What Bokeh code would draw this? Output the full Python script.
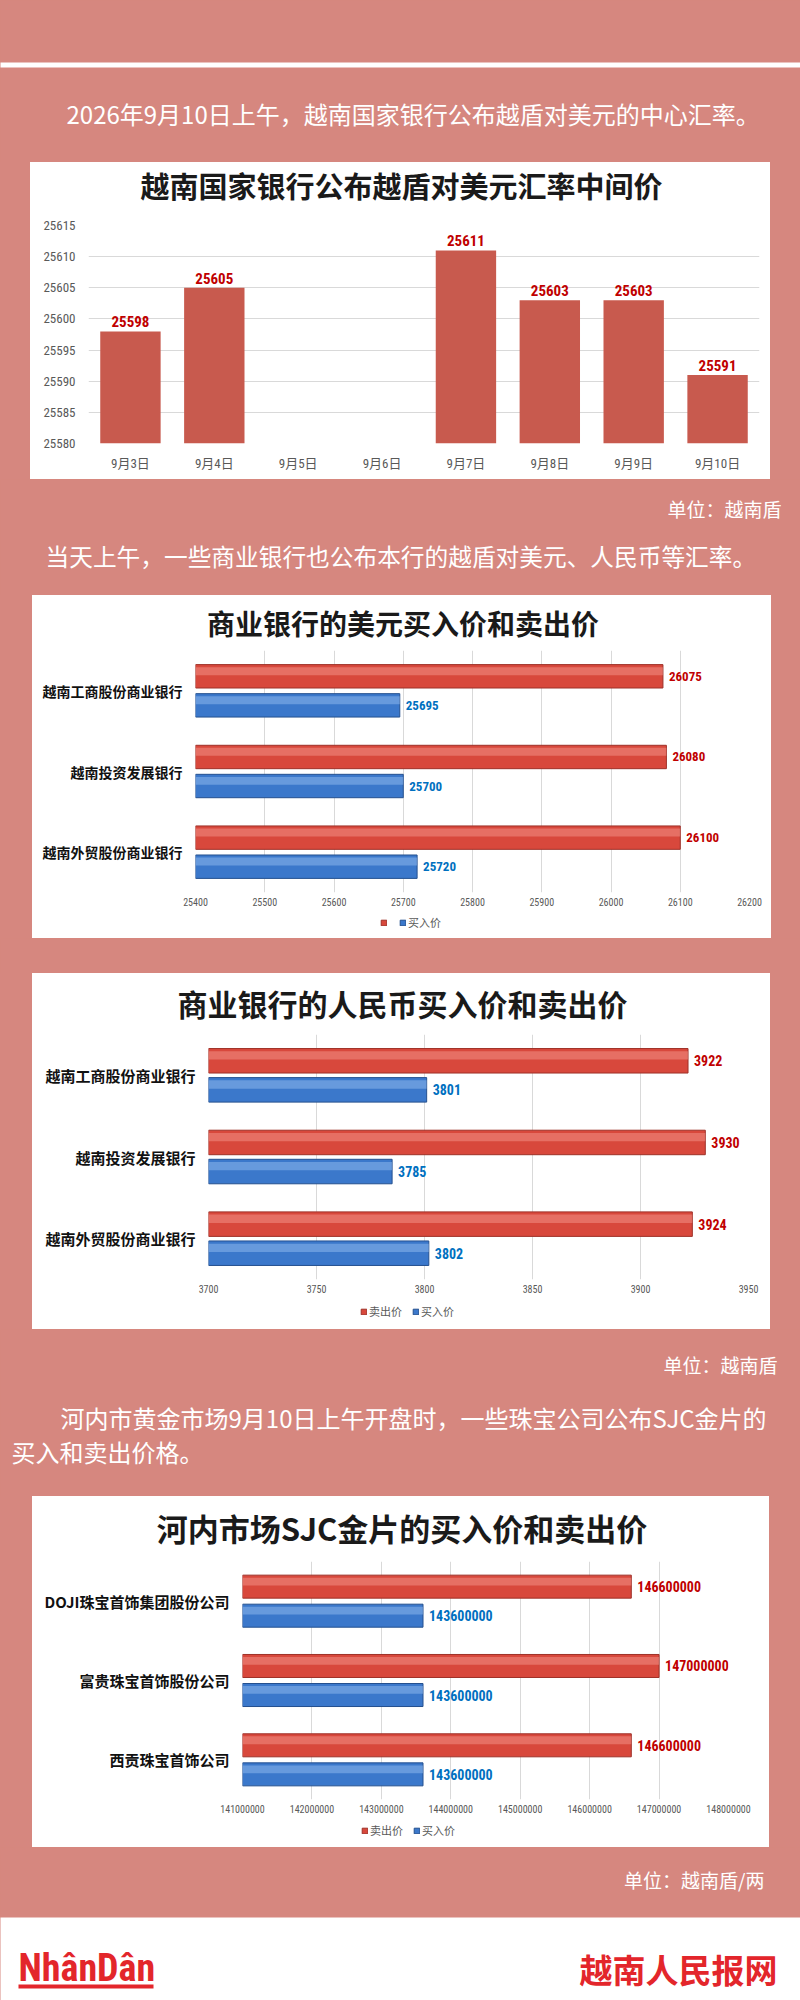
from bokeh.plotting import figure
from bokeh.models import (ColumnDataSource, Range1d, FactorRange, FixedTicker,
                          Legend, LegendItem, BasicTickFormatter, Spacer)
from bokeh.layouts import column, row
from bokeh.transform import dodge
from bokeh.core.properties import value
from bokeh.embed import file_html
from bokeh.resources import INLINE

# ---------------- data ----------------
DAYS = ["9月3日", "9月4日", "9月5日", "9月6日", "9月7日", "9月8日", "9月9日", "9月10日"]
MID_RATE = [25598, 25605, None, None, 25611, 25603, 25603, 25591]
MID_TICKS = [25580, 25585, 25590, 25595, 25600, 25605, 25610, 25615]

USD_BANKS = ["越南工商股份商业银行", "越南投资发展银行", "越南外贸股份商业银行"]
USD_SELL = [26075, 26080, 26100]
USD_BUY = [25695, 25700, 25720]
USD_TICKS = [25400, 25500, 25600, 25700, 25800, 25900, 26000, 26100, 26200]
USD_LEGEND = ["", "买入价"]

CNY_BANKS = ["越南工商股份商业银行", "越南投资发展银行", "越南外贸股份商业银行"]
CNY_SELL = [3922, 3930, 3924]
CNY_BUY = [3801, 3785, 3802]
CNY_TICKS = [3700, 3750, 3800, 3850, 3900, 3950]
CNY_LEGEND = ["卖出价", "买入价"]

GOLD_SELLERS = ["DOJI珠宝首饰集团股份公司", "富贵珠宝首饰股份公司", "西贡珠宝首饰公司"]
GOLD_SELL = [146600000, 147000000, 146600000]
GOLD_BUY = [143600000, 143600000, 143600000]
GOLD_TICKS = [141000000, 142000000, 143000000, 144000000, 145000000,
              146000000, 147000000, 148000000]
GOLD_LEGEND = ["卖出价", "买入价"]

HEAD1 = "2026年9月10日上午，越南国家银行公布越盾对美元的中心汇率。"
HEAD2 = "当天上午，一些商业银行也公布本行的越盾对美元、人民币等汇率。"
HEAD3A = "河内市黄金市场9月10日上午开盘时，一些珠宝公司公布SJC金片的"
HEAD3B = "买入和卖出价格。"
TITLE1 = "越南国家银行公布越盾对美元汇率中间价"
TITLE2 = "商业银行的美元买入价和卖出价"
TITLE3 = "商业银行的人民币买入价和卖出价"
TITLE4 = "河内市场SJC金片的买入价和卖出价"
UNIT1 = "单位：越南盾"
UNIT2 = "单位：越南盾/两"

# ---------------- style ----------------
PINK = "#d6877f"
WHITE = "#ffffff"
CJK = "Noto Sans CJK SC"
NARROW = "Liberation Sans Narrow, Roboto Condensed, Noto Sans CJK SC, sans-serif"
AX_GRAY = "#595959"
GRID = "#d9d9d9"
TITLE_C = "#1a1a1a"
RED, RED_EDGE, RED_HI = "#d8483c", "#9e3128", "#f4968b"
BLUE, BLUE_EDGE, BLUE_HI = "#3b78cb", "#24508f", "#94bcf0"


def no_align(p):
    try:
        p.frame_align = False
    except Exception:
        pass
    return p


def blank(x0, x1, y0, y1, bg=PINK):
    """Decorative panel whose data coordinates equal page pixels."""
    p = figure(width=x1 - x0, height=y1 - y0, x_range=Range1d(x0, x1),
               y_range=Range1d(y1, y0), title=None, x_axis_location=None,
               y_axis_location=None, min_border=0, toolbar_location=None,
               output_backend="svg", background_fill_color=bg, border_fill_color=bg,
               outline_line_color=None)
    p.grid.visible = False
    return no_align(p)


def put(p, x, y, s, size, color, align="left", style="normal", font=CJK):
    p.text(x=[x], y=[y], text=[s], text_font=value(font), text_font_size=size,
           text_color=color, text_align=align, text_baseline="middle",
           text_font_style=style)


def box(p, l, r, t, b, color):
    p.quad(left=[l], right=[r], top=[t], bottom=[b], fill_color=color, line_color=None)


def pad(w, h):
    return Spacer(width=w, height=h, styles={"background-color": PINK})


def chart_base(p):
    no_align(p)
    p.outline_line_color = None
    p.background_fill_color = WHITE
    p.border_fill_color = WHITE
    for ax in p.axis:
        ax.axis_line_color = None
        ax.major_tick_line_color = None
        ax.minor_tick_line_color = None
        ax.major_tick_out = 0
        ax.major_tick_in = 0
        ax.major_label_text_color = AX_GRAY


def boxed(g, title, title_y, title_size, parts):
    """White card: title panel + chart parts, flanked by pink pads."""
    t = blank(g["x0"], g["x1"], g["top"], g["y0"], bg=WHITE)
    put(t, (g["x0"] + g["x1"]) / 2 + 1, title_y, title, title_size, TITLE_C,
        align="center", style="bold")
    card = column(t, *parts, styles={"background-color": WHITE})
    h = g["y1"] - g["top"]
    return row(pad(g["x0"], h), card, pad(800 - g["x1"], h))


# ---------------- chart 1 : vertical bars ----------------
C1 = dict(x0=30, x1=770, top=162, y0=212, y1=479, fl=88, fr=759, ft=225, fb=443)
c1 = figure(width=C1["x1"] - C1["x0"], height=C1["y1"] - C1["y0"],
            x_range=FactorRange(*DAYS), y_range=Range1d(MID_TICKS[0], MID_TICKS[-1]),
            title=None, toolbar_location=None, output_backend="svg",
            min_border_left=C1["fl"] - C1["x0"], min_border_right=C1["x1"] - C1["fr"],
            min_border_top=C1["ft"] - C1["y0"], min_border_bottom=C1["y1"] - C1["fb"])
chart_base(c1)
days_b = [d for d, v in zip(DAYS, MID_RATE) if v is not None]
vals_b = [v for v in MID_RATE if v is not None]
src1 = ColumnDataSource(dict(day=days_b, rate=vals_b, label=[str(v) for v in vals_b]))
c1.vbar(x="day", top="rate", bottom=MID_TICKS[0], width=0.72, source=src1,
        fill_color="#c85a4e", line_color=None)
c1.text(x="day", y="rate", text="label", source=src1, y_offset=-4,
        text_align="center", text_baseline="bottom", text_font=value(NARROW),
        text_font_style="bold", text_font_size="15px", text_color="#c00000")
c1.yaxis.ticker = FixedTicker(ticks=MID_TICKS)
c1.ygrid.ticker = FixedTicker(ticks=MID_TICKS)
c1.ygrid.grid_line_color = GRID
c1.xgrid.grid_line_color = None
c1.yaxis.major_label_text_font = NARROW
c1.yaxis.major_label_text_font_size = "13px"
c1.yaxis.major_label_standoff = 13
c1.xaxis.major_label_text_font = NARROW
c1.xaxis.major_label_text_font_size = "13px"
c1.xaxis.major_label_standoff = 12


# ---------------- horizontal bar charts ----------------
def hbar_chart(cats, sell, buy, ticks, legend_labels, g, off, h, cat_size, lab_size,
               leg_left):
    fig_bottom = g["fb"] + 18
    p = figure(width=g["x1"] - g["x0"], height=fig_bottom - g["y0"],
               y_range=FactorRange(*cats[::-1]), x_range=Range1d(ticks[0], ticks[-1]),
               title=None, toolbar_location=None, output_backend="svg",
               min_border_left=g["fl"] - g["x0"], min_border_right=g["x1"] - g["fr"],
               min_border_top=g["ft"] - g["y0"], min_border_bottom=fig_bottom - g["fb"])
    chart_base(p)
    src = ColumnDataSource(dict(cat=cats, sell=sell, buy=buy,
                                sell_txt=[str(v) for v in sell],
                                buy_txt=[str(v) for v in buy]))
    base = ticks[0]
    p.hbar(y=dodge("cat", off, range=p.y_range), left=base, right="sell", height=h,
           fill_color=RED, line_color=RED_EDGE, line_width=1, source=src)
    p.hbar(y=dodge("cat", off + h * 0.22, range=p.y_range), left=base, right="sell",
           height=h * 0.34, fill_color=RED_HI, fill_alpha=0.5, line_color=None, source=src)
    p.hbar(y=dodge("cat", -off, range=p.y_range), left=base, right="buy", height=h,
           fill_color=BLUE, line_color=BLUE_EDGE, line_width=1, source=src)
    p.hbar(y=dodge("cat", -off + h * 0.22, range=p.y_range), left=base, right="buy",
           height=h * 0.34, fill_color=BLUE_HI, fill_alpha=0.5, line_color=None, source=src)
    p.text(x="sell", y=dodge("cat", off, range=p.y_range), text="sell_txt", source=src,
           x_offset=6, text_baseline="middle", text_font=value(NARROW),
           text_font_style="bold", text_font_size=lab_size, text_color="#c00000")
    p.text(x="buy", y=dodge("cat", -off, range=p.y_range), text="buy_txt", source=src,
           x_offset=6, text_baseline="middle", text_font=value(NARROW),
           text_font_style="bold", text_font_size=lab_size, text_color="#0070c0")
    p.xaxis.ticker = FixedTicker(ticks=ticks)
    p.xaxis.formatter = BasicTickFormatter(use_scientific=False)
    p.xgrid.ticker = FixedTicker(ticks=ticks)
    p.xgrid.grid_line_color = GRID
    p.ygrid.grid_line_color = None
    p.xaxis.major_label_text_font = NARROW
    p.xaxis.major_label_text_font_size = "10px"
    p.xaxis.major_label_standoff = 5
    p.yaxis.major_label_text_font = CJK
    p.yaxis.major_label_text_font_style = "bold"
    p.yaxis.major_label_text_font_size = cat_size
    p.yaxis.major_label_text_color = "#111111"
    p.yaxis.major_label_standoff = 13

    # legend strip under the chart (white), same card
    s = blank(g["x0"], g["x1"], fig_bottom, g["y1"], bg=WHITE)
    # legend proxies share the chart's data; they fall outside this strip's view
    ls = s.hbar(y="sell", left=base, right="sell", height=1, fill_color=RED,
                line_color=RED_EDGE, source=src)
    lb = s.hbar(y="buy", left=base, right="buy", height=1, fill_color=BLUE,
                line_color=BLUE_EDGE, source=src)
    strip_h = g["y1"] - fig_bottom
    leg = Legend(items=[LegendItem(label=value(legend_labels[0]), renderers=[ls]),
                        LegendItem(label=value(legend_labels[1]), renderers=[lb])],
                 location=(leg_left - g["x0"], (strip_h - 12) // 2),
                 orientation="horizontal", glyph_width=7, glyph_height=7,
                 label_text_font=CJK, label_text_font_size="11px",
                 label_text_color=AX_GRAY, label_standoff=2, spacing=10, padding=0,
                 margin=0, label_height=12, label_width=0,
                 border_line_color=None, background_fill_alpha=0)
    s.add_layout(leg, "center")
    return [p, s]


G2 = dict(x0=32, x1=771, top=595, y0=646, y1=938, fl=195, fr=749, ft=650, fb=892)
G3 = dict(x0=32, x1=770, top=973, y0=1029, y1=1329, fl=208, fr=748, ft=1034, fb=1279)
G4 = dict(x0=32, x1=769, top=1496, y0=1556, y1=1847, fl=242, fr=728, ft=1561, fb=1799)

c2 = hbar_chart(USD_BANKS, USD_SELL, USD_BUY, USD_TICKS, USD_LEGEND, G2, 0.18, 0.29,
                "14px", "13px", 380)
c3 = hbar_chart(CNY_BANKS, CNY_SELL, CNY_BUY, CNY_TICKS, CNY_LEGEND, G3, 0.178, 0.30,
                "15px", "14px", 360)
c4 = hbar_chart(GOLD_SELLERS, GOLD_SELL, GOLD_BUY, GOLD_TICKS, GOLD_LEGEND, G4, 0.183,
                0.29, "15px", "14px", 361)

# ---------------- pink bands (page coordinates) ----------------
f0 = blank(0, 800, 0, C1["top"])
box(f0, -5, 805, 62, 67, WHITE)
put(f0, 66, 113, HEAD1, "24px", WHITE)

f1 = blank(0, 800, C1["y1"], G2["top"])
put(f1, 781, 508, UNIT1, "19px", WHITE, align="right")
put(f1, 45, 555, HEAD2, "23.7px", WHITE)

f2 = blank(0, 800, G2["y1"], G3["top"])

f3 = blank(0, 800, G3["y1"], G4["top"])
put(f3, 777, 1364, UNIT1, "19px", WHITE, align="right")
put(f3, 60, 1417, HEAD3A, "24px", WHITE)
put(f3, 11, 1451, HEAD3B, "24px", WHITE)

f4 = blank(0, 800, G4["y1"], 2000)
put(f4, 764, 1879, UNIT2, "19px", WHITE, align="right")
box(f4, -5, 805, 1917, 2010, WHITE)
put(f4, 18, 1967, "NhânDân", "38px", "#e3262b", style="bold",
    font="Liberation Sans Narrow, Roboto Condensed, sans-serif")
box(f4, 18, 153, 1984, 1988, "#e3262b")
put(f4, 777, 1968, "越南人民报网", "33px", "#e3262b", align="right", style="bold")

layout = column(
    f0,
    boxed(C1, TITLE1, 184, "29px", [c1]),
    f1,
    boxed(G2, TITLE2, 622, "28px", c2),
    f2,
    boxed(G3, TITLE3, 1002, "30px", c3),
    f3,
    boxed(G4, TITLE4, 1527, "31px", c4),
    f4,
    styles={"background-color": PINK},
)

open("out.html", "w").write(file_html(layout, INLINE))
